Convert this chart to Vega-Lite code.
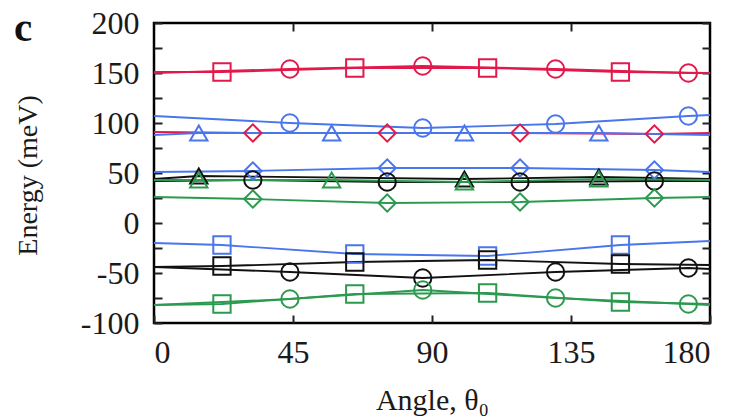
{
  "$schema": "https://vega.github.io/schema/vega-lite/v6.json",
  "width": 556,
  "height": 300,
  "autosize": {"type": "none"},
  "padding": {"left": 154, "top": 23, "right": 26, "bottom": 96},
  "background": "white",
  "title": {
    "text": "c",
    "anchor": "start",
    "frame": "group",
    "orient": "top",
    "font": "Liberation Serif",
    "fontSize": 41,
    "fontWeight": "bold",
    "color": "#111111",
    "baseline": "alphabetic",
    "offset": 0,
    "dx": -140,
    "dy": 75
  },
  "config": {
    "font": "Liberation Serif",
    "view": {"stroke": "#000000", "strokeWidth": 2.5},
    "axis": {
      "domain": false,
      "grid": false,
      "labelFont": "Liberation Serif",
      "labelFontSize": 32,
      "labelColor": "#1a1a1a",
      "titleFont": "Liberation Serif",
      "titleFontSize": 28,
      "titleFontWeight": "normal",
      "titleColor": "#1a1a1a",
      "tickColor": "#222222",
      "tickWidth": 2,
      "tickSize": -8
    }
  },
  "data": {
    "values": [
      {"curve": 1, "set": "A", "mode": "sq", "theta": 0, "energy": 151},
      {"curve": 1, "set": "A", "mode": "sq", "theta": 22, "energy": 151},
      {"curve": 1, "set": "A", "mode": "sq", "theta": 65, "energy": 155},
      {"curve": 1, "set": "A", "mode": "sq", "theta": 108, "energy": 155},
      {"curve": 1, "set": "A", "mode": "sq", "theta": 151, "energy": 151},
      {"curve": 1, "set": "A", "mode": "sq", "theta": 180, "energy": 150},

      {"curve": 2, "set": "A", "mode": "ci", "theta": 0, "energy": 150},
      {"curve": 2, "set": "A", "mode": "ci", "theta": 44, "energy": 154},
      {"curve": 2, "set": "A", "mode": "ci", "theta": 87, "energy": 157},
      {"curve": 2, "set": "A", "mode": "ci", "theta": 130, "energy": 154},
      {"curve": 2, "set": "A", "mode": "ci", "theta": 173, "energy": 150},
      {"curve": 2, "set": "A", "mode": "ci", "theta": 180, "energy": 150},

      {"curve": 3, "set": "A", "mode": "di", "theta": 0, "energy": 91},
      {"curve": 3, "set": "A", "mode": "di", "theta": 32, "energy": 90},
      {"curve": 3, "set": "A", "mode": "di", "theta": 75.5, "energy": 90},
      {"curve": 3, "set": "A", "mode": "di", "theta": 118.5, "energy": 90},
      {"curve": 3, "set": "A", "mode": "di", "theta": 162, "energy": 89},
      {"curve": 3, "set": "A", "mode": "di", "theta": 180, "energy": 90},

      {"curve": 4, "set": "B", "mode": "ci", "theta": 0, "energy": 107},
      {"curve": 4, "set": "B", "mode": "ci", "theta": 44, "energy": 100},
      {"curve": 4, "set": "B", "mode": "ci", "theta": 87, "energy": 95},
      {"curve": 4, "set": "B", "mode": "ci", "theta": 130, "energy": 99},
      {"curve": 4, "set": "B", "mode": "ci", "theta": 173, "energy": 107},
      {"curve": 4, "set": "B", "mode": "ci", "theta": 180, "energy": 108},

      {"curve": 5, "set": "B", "mode": "tr", "theta": 0, "energy": 88},
      {"curve": 5, "set": "B", "mode": "tr", "theta": 14.5, "energy": 90},
      {"curve": 5, "set": "B", "mode": "tr", "theta": 57.5, "energy": 90},
      {"curve": 5, "set": "B", "mode": "tr", "theta": 100.5, "energy": 90},
      {"curve": 5, "set": "B", "mode": "tr", "theta": 144, "energy": 90},
      {"curve": 5, "set": "B", "mode": "tr", "theta": 180, "energy": 88},

      {"curve": 6, "set": "B", "mode": "di", "theta": 0, "energy": 51},
      {"curve": 6, "set": "B", "mode": "di", "theta": 32, "energy": 52},
      {"curve": 6, "set": "B", "mode": "di", "theta": 75.5, "energy": 55},
      {"curve": 6, "set": "B", "mode": "di", "theta": 118.5, "energy": 55},
      {"curve": 6, "set": "B", "mode": "di", "theta": 162, "energy": 53},
      {"curve": 6, "set": "B", "mode": "di", "theta": 180, "energy": 51},

      {"curve": 7, "set": "B", "mode": "sq", "theta": 0, "energy": -20},
      {"curve": 7, "set": "B", "mode": "sq", "theta": 22, "energy": -22},
      {"curve": 7, "set": "B", "mode": "sq", "theta": 65, "energy": -31},
      {"curve": 7, "set": "B", "mode": "sq", "theta": 108, "energy": -33},
      {"curve": 7, "set": "B", "mode": "sq", "theta": 151, "energy": -22},
      {"curve": 7, "set": "B", "mode": "sq", "theta": 180, "energy": -18},

      {"curve": 8, "set": "C", "mode": "tr", "theta": 0, "energy": 44},
      {"curve": 8, "set": "C", "mode": "tr", "theta": 14.5, "energy": 47},
      {"curve": 8, "set": "C", "mode": "tr", "theta": 100.5, "energy": 44},
      {"curve": 8, "set": "C", "mode": "tr", "theta": 144, "energy": 46},
      {"curve": 8, "set": "C", "mode": "tr", "theta": 180, "energy": 44},

      {"curve": 9, "set": "C", "mode": "ci", "theta": 0, "energy": 42},
      {"curve": 9, "set": "C", "mode": "ci", "theta": 32, "energy": 43},
      {"curve": 9, "set": "C", "mode": "ci", "theta": 75.5, "energy": 41},
      {"curve": 9, "set": "C", "mode": "ci", "theta": 118.5, "energy": 41},
      {"curve": 9, "set": "C", "mode": "ci", "theta": 162, "energy": 42},
      {"curve": 9, "set": "C", "mode": "ci", "theta": 180, "energy": 42},

      {"curve": 10, "set": "C", "mode": "sq", "theta": 0, "energy": -44},
      {"curve": 10, "set": "C", "mode": "sq", "theta": 22, "energy": -43},
      {"curve": 10, "set": "C", "mode": "sq", "theta": 65, "energy": -39},
      {"curve": 10, "set": "C", "mode": "sq", "theta": 108, "energy": -37},
      {"curve": 10, "set": "C", "mode": "sq", "theta": 151, "energy": -41},
      {"curve": 10, "set": "C", "mode": "sq", "theta": 180, "energy": -42},

      {"curve": 11, "set": "C", "mode": "ci", "theta": 0, "energy": -44},
      {"curve": 11, "set": "C", "mode": "ci", "theta": 44, "energy": -49},
      {"curve": 11, "set": "C", "mode": "ci", "theta": 87, "energy": -55},
      {"curve": 11, "set": "C", "mode": "ci", "theta": 130, "energy": -49},
      {"curve": 11, "set": "C", "mode": "ci", "theta": 173, "energy": -45},
      {"curve": 11, "set": "C", "mode": "ci", "theta": 180, "energy": -46},

      {"curve": 12, "set": "D", "mode": "tr", "theta": 0, "energy": 43},
      {"curve": 12, "set": "D", "mode": "tr", "theta": 14.5, "energy": 43},
      {"curve": 12, "set": "D", "mode": "tr", "theta": 57.5, "energy": 43},
      {"curve": 12, "set": "D", "mode": "tr", "theta": 100.5, "energy": 41},
      {"curve": 12, "set": "D", "mode": "tr", "theta": 144, "energy": 44},
      {"curve": 12, "set": "D", "mode": "tr", "theta": 180, "energy": 43},

      {"curve": 13, "set": "D", "mode": "di", "theta": 0, "energy": 26},
      {"curve": 13, "set": "D", "mode": "di", "theta": 32, "energy": 24},
      {"curve": 13, "set": "D", "mode": "di", "theta": 75.5, "energy": 20},
      {"curve": 13, "set": "D", "mode": "di", "theta": 118.5, "energy": 21},
      {"curve": 13, "set": "D", "mode": "di", "theta": 162, "energy": 25},
      {"curve": 13, "set": "D", "mode": "di", "theta": 180, "energy": 26},

      {"curve": 14, "set": "D", "mode": "sq", "theta": 0, "energy": -82},
      {"curve": 14, "set": "D", "mode": "sq", "theta": 22, "energy": -81},
      {"curve": 14, "set": "D", "mode": "sq", "theta": 65, "energy": -71},
      {"curve": 14, "set": "D", "mode": "sq", "theta": 108, "energy": -70},
      {"curve": 14, "set": "D", "mode": "sq", "theta": 151, "energy": -79},
      {"curve": 14, "set": "D", "mode": "sq", "theta": 180, "energy": -81},

      {"curve": 15, "set": "D", "mode": "ci", "theta": 0, "energy": -82},
      {"curve": 15, "set": "D", "mode": "ci", "theta": 44, "energy": -76},
      {"curve": 15, "set": "D", "mode": "ci", "theta": 87, "energy": -67},
      {"curve": 15, "set": "D", "mode": "ci", "theta": 130, "energy": -75},
      {"curve": 15, "set": "D", "mode": "ci", "theta": 173, "energy": -81},
      {"curve": 15, "set": "D", "mode": "ci", "theta": 180, "energy": -82}
    ]
  },
  "resolve": {"axis": {"x": "independent", "y": "independent"}},
  "layer": [
    {
      "mark": {"type": "line", "strokeWidth": 1.8, "clip": true},
      "encoding": {
        "x": {
          "field": "theta",
          "type": "quantitative",
          "scale": {"domain": [0, 180], "nice": false, "zero": false},
          "axis": {
            "orient": "bottom",
            "values": [0, 45, 90, 135, 180],
            "labelPadding": 22,
            "title": "Angle, θ₀",
            "titleFontSize": 30,
            "titleX": 278,
            "titleY": 77,
            "titleAlign": "center",
            "titleBaseline": "middle"
          }
        },
        "y": {
          "field": "energy",
          "type": "quantitative",
          "scale": {"domain": [-100, 200], "nice": false, "zero": false},
          "axis": {
            "orient": "left",
            "values": [-100, -75, -50, -25, 0, 25, 50, 75, 100, 125, 150, 175, 200],
            "labelExpr": "datum.value % 50 === 0 ? '' + datum.value : ''",
            "labelPadding": 23,
            "title": "Energy (meV)",
            "titleAngle": -90,
            "titleX": -126,
            "titleY": 152,
            "titleAlign": "center",
            "titleBaseline": "middle"
          }
        },
        "color": {
          "field": "set",
          "type": "nominal",
          "scale": {"domain": ["A", "B", "C", "D"], "range": ["#e2194b", "#4a76ec", "#111111", "#2b9a4f"]},
          "legend": null
        },
        "detail": {"field": "curve", "type": "nominal"},
        "order": {"field": "theta", "type": "quantitative"}
      }
    },
    {
      "transform": [{"filter": "datum.theta > 0 && datum.theta < 180"}],
      "mark": {"type": "point", "filled": false, "strokeWidth": 2, "size": 300, "opacity": 1},
      "encoding": {
        "x": {
          "field": "theta",
          "type": "quantitative",
          "axis": {
            "orient": "top",
            "values": [45, 90, 135],
            "labels": false,
            "title": null
          }
        },
        "y": {
          "field": "energy",
          "type": "quantitative",
          "axis": {
            "orient": "right",
            "values": [-100, -75, -50, -25, 0, 25, 50, 75, 100, 125, 150, 175, 200],
            "labels": false,
            "title": null
          }
        },
        "color": {"field": "set", "type": "nominal", "legend": null},
        "shape": {
          "field": "mode",
          "type": "nominal",
          "scale": {"domain": ["sq", "ci", "tr", "di"], "range": ["square", "circle", "triangle-up", "diamond"]},
          "legend": null
        }
      }
    }
  ]
}
